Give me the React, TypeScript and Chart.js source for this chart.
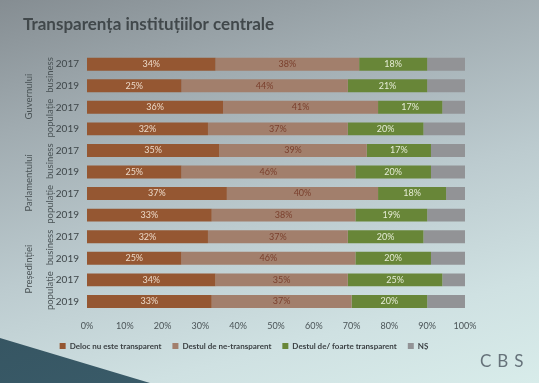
import React, { useEffect, useRef } from "react";
import { Chart, registerables } from "chart.js";

Chart.register(...registerables);

const years = ["2017", "2019", "2017", "2019", "2017", "2019", "2017", "2019", "2017", "2019", "2017", "2019"];
const subGroups = ["business", "populație", "business", "populație", "business", "populație"];
const institutions = ["Guvernului", "Parlamentului", "Președinției"];

const seriesNames = ["Deloc nu este transparent", "Destul de ne-transparent", "Destul de/ foarte transparent", "NȘ"];
const delocValues = [34, 25, 36, 32, 35, 25, 37, 33, 32, 25, 34, 33];
const neTransparentValues = [38, 44, 41, 37, 39, 46, 40, 38, 37, 46, 35, 37];
const transparentValues = [18, 21, 17, 20, 17, 20, 18, 19, 20, 20, 25, 20];
const nsValues = [10, 10, 6, 11, 9, 9, 5, 10, 11, 9, 6, 10];

const xTicks = [0, 10, 20, 30, 40, 50, 60, 70, 80, 90, 100];

const colors = ["#955732", "#a27f6c", "#688638", "#929396"];
const labelColors = ["#ecd9c8", "#7a3f2c", "#e6ecd6", null];

const FONT = "Lato, 'Open Sans', sans-serif";
const LEGEND_LIFT = 8;

const groupPlugin = {
  id: "groupLabels",
  afterLayout(chart: any) {
    const lg = chart.legend;
    if (lg) {
      lg.top -= LEGEND_LIFT;
      lg.bottom -= LEGEND_LIFT;
    }
  },
  afterDraw(chart: any) {
    const ctx = chart.ctx;
    const y = chart.scales.y;
    ctx.save();
    ctx.fillStyle = "#4a5356";
    ctx.textAlign = "center";
    ctx.textBaseline = "middle";
    ctx.font = `9.5px ${FONT}`;
    subGroups.forEach((g, i) => {
      const a = y.getPixelForValue(i * 2);
      const b = y.getPixelForValue(i * 2 + 1);
      ctx.save();
      ctx.translate(50, (a + b) / 2);
      ctx.rotate(-Math.PI / 2);
      ctx.fillText(g, 0, 0);
      ctx.restore();
    });
    institutions.forEach((g, i) => {
      const a = y.getPixelForValue(i * 4);
      const b = y.getPixelForValue(i * 4 + 3);
      ctx.save();
      ctx.translate(29, (a + b) / 2);
      ctx.rotate(-Math.PI / 2);
      ctx.fillText(g, 0, 0);
      ctx.restore();
    });
    ctx.restore();
  },
};

const valueLabelPlugin = {
  id: "valueLabels",
  afterDatasetsDraw(chart: any) {
    const ctx = chart.ctx;
    ctx.save();
    ctx.textAlign = "center";
    ctx.textBaseline = "middle";
    ctx.font = `9px ${FONT}`;
    chart.data.datasets.forEach((ds: any, di: number) => {
      const c = labelColors[di];
      if (!c) return;
      const meta = chart.getDatasetMeta(di);
      meta.data.forEach((bar: any, i: number) => {
        const cx = (bar.x + bar.base) / 2;
        ctx.fillStyle = c;
        ctx.fillText(ds.data[i] + "%", cx, bar.y);
      });
    });
    ctx.restore();
  },
};

export default function App() {
  const ref = useRef<HTMLCanvasElement | null>(null);
  useEffect(() => {
    if (!ref.current) return;
    const datasets = [delocValues, neTransparentValues, transparentValues, nsValues].map((d, i) => ({
      label: seriesNames[i],
      data: d,
      backgroundColor: colors[i],
      borderWidth: 0,
      barPercentage: 0.6,
      categoryPercentage: 1,
    }));
    const chart = new Chart(ref.current, {
      type: "bar",
      data: { labels: years, datasets },
      options: {
        indexAxis: "y",
        animation: false,
        responsive: false,
        layout: { padding: { left: 23, right: 74, top: 14, bottom: 15 } },
        plugins: {
          title: {
            display: true,
            text: "Transparența instituțiilor centrale",
            align: "start",
            color: "#41484b",
            font: { family: FONT, size: 17, weight: "bold" },
            padding: { top: 0, bottom: 19 },
          },
          legend: {
            position: "bottom",
            align: "center",
            labels: {
              boxWidth: 6,
              boxHeight: 6,
              padding: 11,
              color: "#3a3f42",
              font: { family: FONT, size: 8, weight: "bold" },
            },
          },
          tooltip: { enabled: false },
        },
        scales: {
          x: {
            stacked: true,
            min: 0,
            max: 100,
            grid: { display: false, drawTicks: false },
            border: { display: false },
            ticks: {
              stepSize: 10,
              padding: 8,
              color: "#4a5356",
              font: { family: FONT, size: 9 },
              callback: (v: any) => (xTicks.includes(v) ? v + "%" : ""),
            },
          },
          y: {
            stacked: true,
            grid: { display: false, drawTicks: false },
            border: { display: false },
            afterFit: (s: any) => {
              s.width = 64;
            },
            ticks: {
              padding: 8,
              color: "#3e4649",
              font: { family: FONT, size: 10 },
            },
          },
        },
      },
      plugins: [groupPlugin, valueLabelPlugin],
    });
    return () => chart.destroy();
  }, []);
  return (
    <div
      style={{
        position: "fixed",
        inset: 0,
        overflow: "hidden",
        background:
          "linear-gradient(165deg, #858d92 0%, #a0abb0 25%, #bccbcf 55%, #cfe1e2 80%, #d8ecea 100%)",
      }}
    >
      <div
        style={{
          position: "absolute",
          inset: 0,
          background: "linear-gradient(160deg, #2d4450, #3d6270)",
          clipPath: "polygon(0px 338px, 150px 383px, 0px 383px)",
        }}
      />
      <canvas ref={ref} width={539} height={383} style={{ position: "absolute", left: 0, top: 0 }} />
      <div
        style={{
          position: "absolute",
          left: 480,
          top: 350,
          font: `17px ${FONT}`,
          letterSpacing: 6,
          color: "#66727a",
        }}
      >
        CBS
      </div>
    </div>
  );
}
